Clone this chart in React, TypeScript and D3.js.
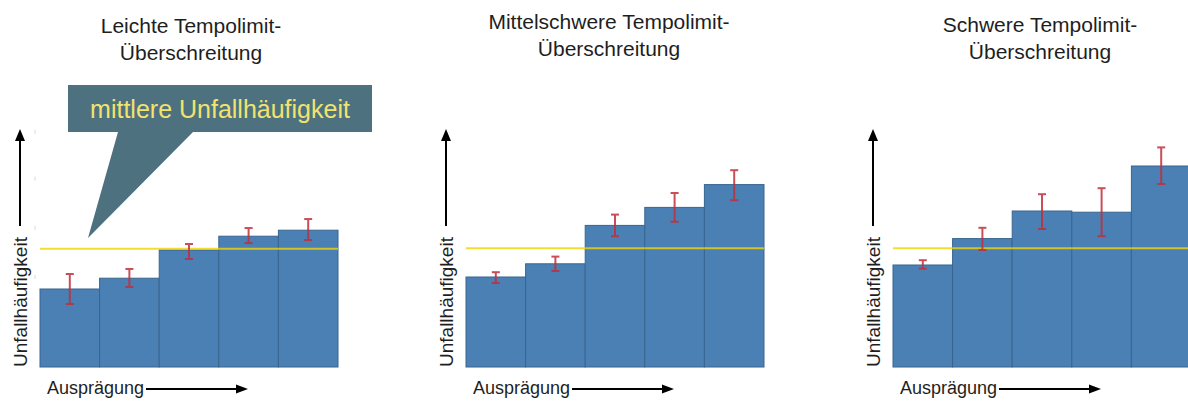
import React from "react";
import * as d3 from "d3";

// ---------- data ----------
const categories = ["1", "2", "3", "4", "5"];

const panelTitles = [
  ["Leichte Tempolimit-", "Überschreitung"],
  ["Mittelschwere Tempolimit-", "Überschreitung"],
  ["Schwere Tempolimit-", "Überschreitung"],
];

// relative Unfallhäufigkeit (Mittelwert ≈ 1)
const leichtValues = [0.65, 0.74, 0.975, 1.09, 1.14];
const leichtLow = [0.525, 0.667, 0.9, 1.033, 1.058];
const leichtHigh = [0.775, 0.817, 1.025, 1.158, 1.233];

const mittelValues = [0.75, 0.86, 1.18, 1.33, 1.52];
const mittelLow = [0.7, 0.8, 1.09, 1.21, 1.39];
const mittelHigh = [0.79, 0.92, 1.27, 1.45, 1.64];

const schwerValues = [0.85, 1.07, 1.3, 1.29, 1.675];
const schwerLow = [0.82, 0.975, 1.15, 1.09, 1.525];
const schwerHigh = [0.89, 1.16, 1.44, 1.49, 1.83];

const meanValues = [0.985, 0.99, 0.99];

const yTicks = [0.75, 1.16, 1.57, 1.96];

const yAxisLabel = "Unfallhäufigkeit";
const xAxisLabel = "Ausprägung";
const calloutText = "mittlere Unfallhäufigkeit";

// ---------- layout ----------
const W = 1188;
const H = 401;
const plotBottom = 367;
const plotTopRange = 127;
const plotWidth = 298;
const panelLefts = [40, 466, 893];
const titleCenters = [191, 609, 1040];
const titleBaselines = [33, 29, 32];

const FONT = "'Liberation Sans', Arial, Helvetica, sans-serif";
const BAR_FILL = "#4a80b4";
const BAR_STROKE = "#38658f";
const ERR = "#c0303c";
const MEAN = "#f2d400";
const TEXT = "#1e1e1e";

const series = [
  { values: leichtValues, low: leichtLow, high: leichtHigh },
  { values: mittelValues, low: mittelLow, high: mittelHigh },
  { values: schwerValues, low: schwerLow, high: schwerHigh },
];

const y = d3.scaleLinear().domain([0, 2]).range([plotBottom, plotTopRange]);

function Panel({ idx }: { idx: number }) {
  const left = panelLefts[idx];
  const x = d3
    .scaleBand<string>()
    .domain(categories)
    .range([left, left + plotWidth])
    .padding(0);
  const s = series[idx];
  const ax = left - 20;
  const lineTop = y(meanValues[idx]);
  return (
    <g>
      {/* title */}
      <text
        x={titleCenters[idx]}
        y={titleBaselines[idx]}
        textAnchor="middle"
        fontFamily={FONT}
        fontSize={21}
        fill={TEXT}
      >
        <tspan x={titleCenters[idx]}>{panelTitles[idx][0]}</tspan>
        <tspan x={titleCenters[idx]} dy={27}>
          {panelTitles[idx][1]}
        </tspan>
      </text>

      {/* faint ticks (only first panel) */}
      {idx === 0 &&
        yTicks.map((t, i) => (
          <line
            key={i}
            x1={left - 5}
            x2={left - 5}
            y1={y(t) - 2}
            y2={y(t) + 2}
            stroke="#d8d8d8"
            strokeWidth={1}
          />
        ))}

      {/* bars */}
      {categories.map((c, i) => (
        <rect
          key={c}
          x={x(c)!}
          y={y(s.values[i])}
          width={x.bandwidth()}
          height={y(0) - y(s.values[i])}
          fill={BAR_FILL}
          stroke={BAR_STROKE}
          strokeWidth={1}
        />
      ))}

      {/* mean line */}
      <line
        x1={left}
        x2={left + plotWidth}
        y1={lineTop}
        y2={lineTop}
        stroke={MEAN}
        strokeWidth={2}
        opacity={0.8}
      />

      {/* error bars */}
      {categories.map((c, i) => {
        const cx = x(c)! + x.bandwidth() / 2;
        const yl = y(s.low[i]);
        const yh = y(s.high[i]);
        return (
          <g key={c} stroke={ERR} strokeWidth={2} opacity={0.85}>
            <line x1={cx} x2={cx} y1={yh} y2={yl} />
            <line x1={cx - 4} x2={cx + 4} y1={yh} y2={yh} />
            <line x1={cx - 4} x2={cx + 4} y1={yl} y2={yl} />
          </g>
        );
      })}

      {/* y axis arrow + label */}
      <line x1={ax} x2={ax} y1={226} y2={139} stroke="#000" strokeWidth={2} />
      <polygon points={`${ax},129 ${ax - 5},141 ${ax + 5},141`} fill="#000" />
      <text
        transform={`translate(${ax},${plotBottom}) rotate(-90)`}
        x={0}
        y={0}
        dy="0.35em"
        fontFamily={FONT}
        fontSize={19}
        fill={TEXT}
      >
        {yAxisLabel}
      </text>

      {/* x axis label + arrow */}
      <text
        x={left + 7}
        y={394}
        fontFamily={FONT}
        fontSize={18}
        fill={TEXT}
      >
        {xAxisLabel}
      </text>
      <line
        x1={left + 106}
        x2={left + 198}
        y1={389}
        y2={389}
        stroke="#000"
        strokeWidth={2}
      />
      <polygon
        points={`${left + 208},389 ${left + 196},384.5 ${left + 196},393.5`}
        fill="#000"
      />
    </g>
  );
}

export default function App() {
  return (
    <svg
      width={W}
      height={H}
      style={{ position: "absolute", left: 0, top: 0, background: "#fff" }}
    >
      <rect x={0} y={0} width={W} height={H} fill="#fff" />
      {[0, 1, 2].map((i) => (
        <Panel key={i} idx={i} />
      ))}
      {/* callout */}
      <path
        d="M68,85 L372,85 L372,132 L193,132 L88,238 L118,132 L68,132 Z"
        fill="#4e717f"
      />
      <text
        x={220}
        y={118}
        textAnchor="middle"
        fontFamily={FONT}
        fontSize={25}
        fill="#f2e36e"
      >
        {calloutText}
      </text>
    </svg>
  );
}
